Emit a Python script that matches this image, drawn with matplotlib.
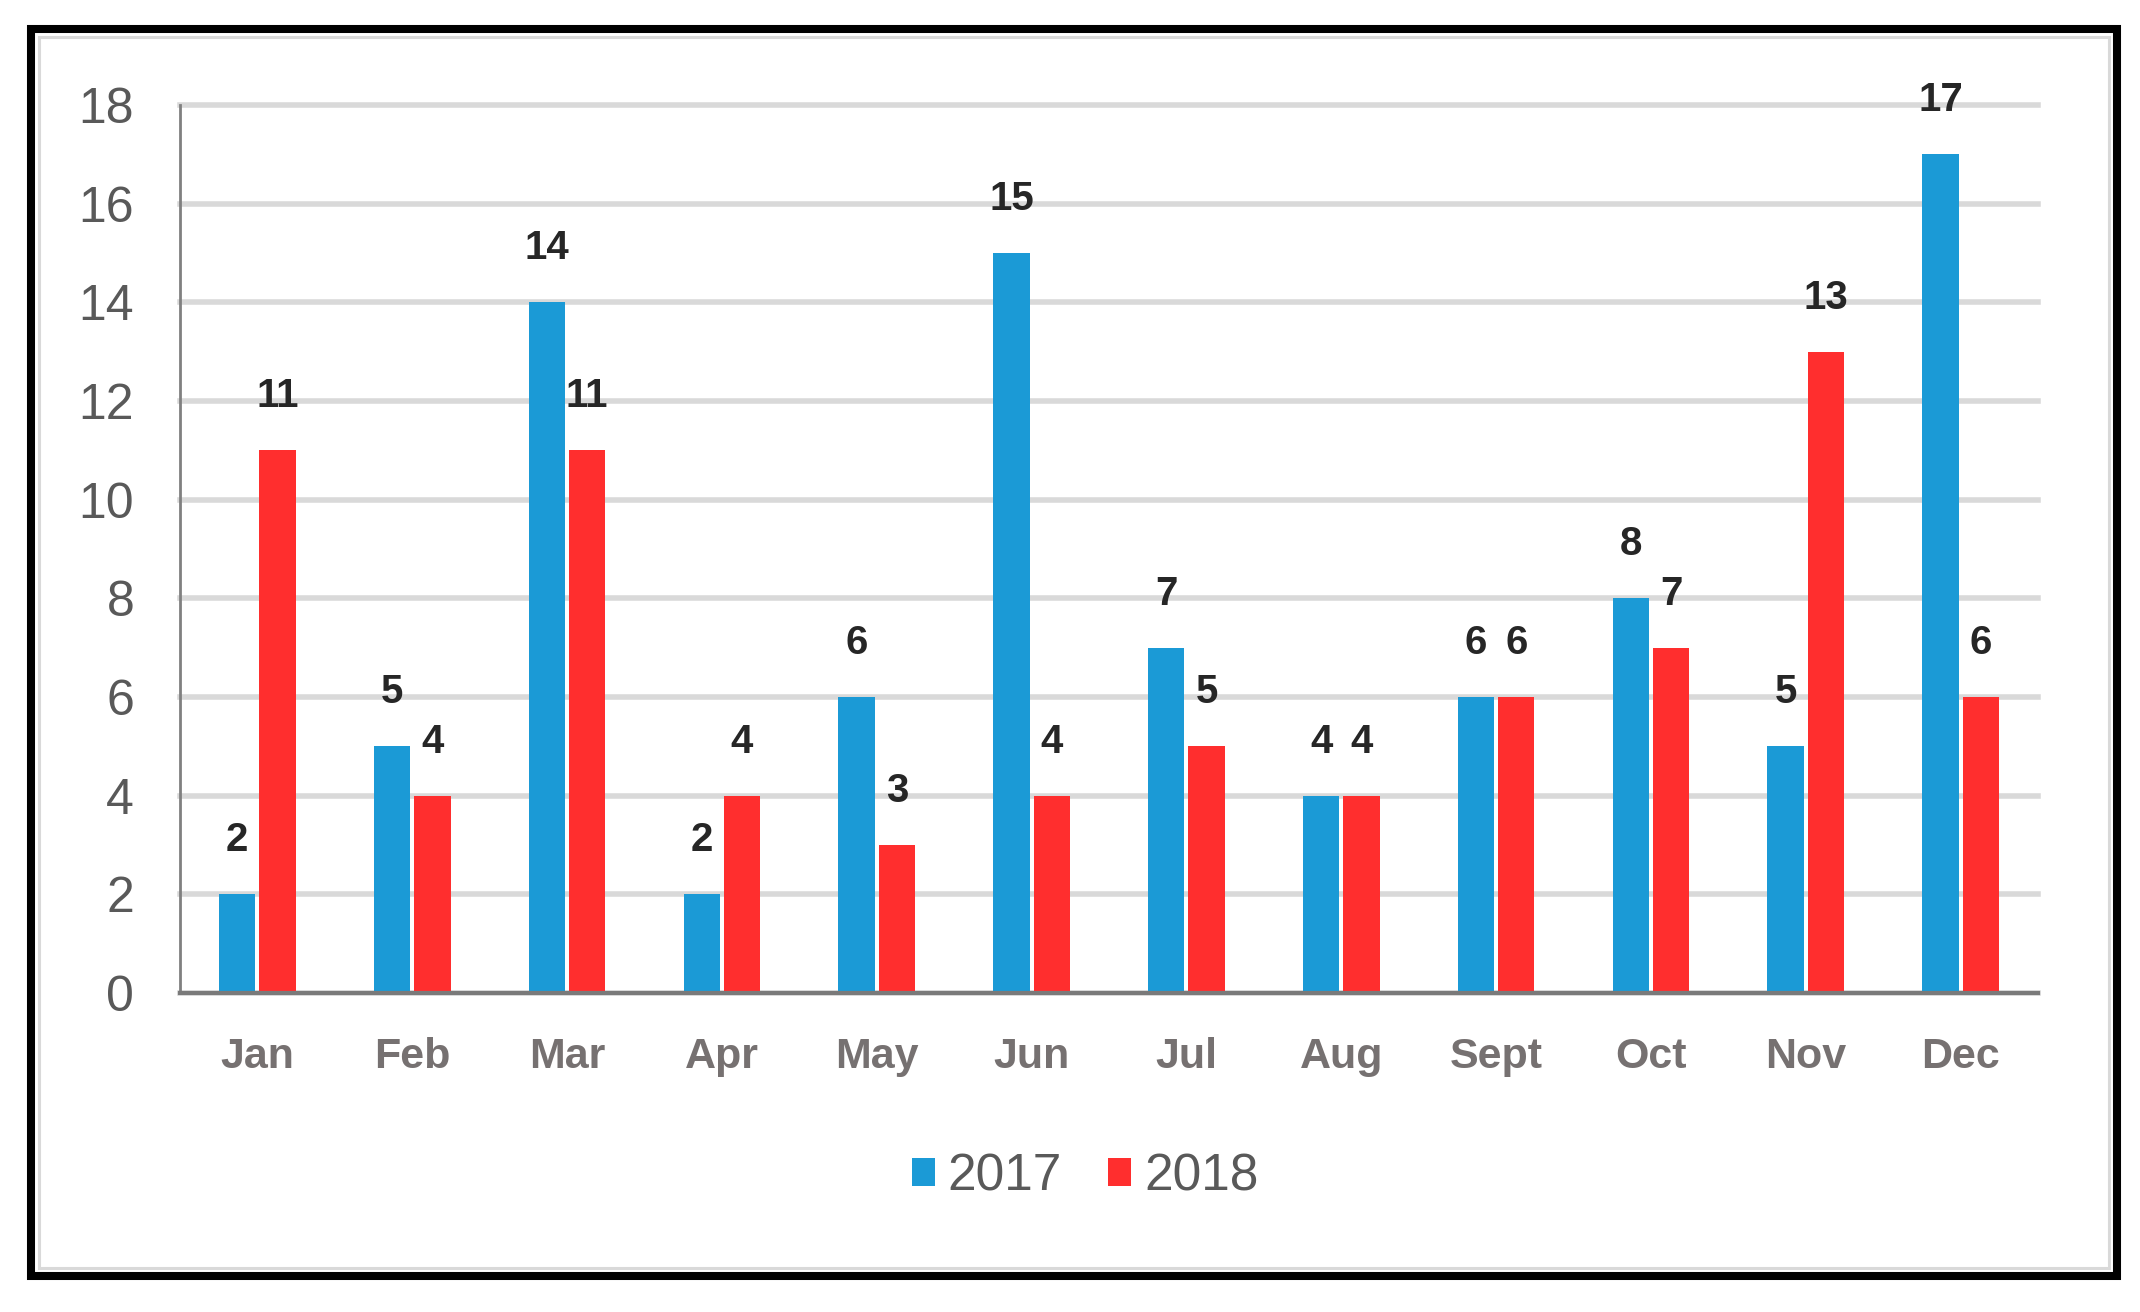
import matplotlib
matplotlib.use("Agg")
import matplotlib.pyplot as plt
from matplotlib.patches import Rectangle
import numpy as np

months = ["Jan", "Feb", "Mar", "Apr", "May", "Jun", "Jul", "Aug", "Sept", "Oct", "Nov", "Dec"]
values_2017 = [2, 5, 14, 2, 6, 15, 7, 4, 6, 8, 5, 17]
values_2018 = [11, 4, 11, 4, 3, 4, 5, 4, 6, 7, 13, 6]
series_names = ["2017", "2018"]
yticks = [0, 2, 4, 6, 8, 10, 12, 14, 16, 18]

BLUE = "#1B9AD6"
RED = "#FF2E2E"

plt.rcParams['font.family'] = ['Liberation Sans', 'DejaVu Sans']

W, H = 2140, 1312
fig = plt.figure(figsize=(W / 100, H / 100), dpi=100)
fig.patch.set_facecolor("white")

ax = fig.add_axes([180 / W, 1 - 993 / H, (2038 - 180) / W, (993 - 105) / H])

x = np.arange(len(months))
bw = 0.235
off = 0.13
b1 = ax.bar(x - off, values_2017, bw, color=BLUE, label=series_names[0], zorder=3)
b2 = ax.bar(x + off, values_2018, bw, color=RED, label=series_names[1], zorder=3)

for bars, vals in ((b1, values_2017), (b2, values_2018)):
    for rect, v in zip(bars, vals):
        ax.annotate(str(v), (rect.get_x() + rect.get_width() / 2, v),
                    xytext=(0, 39), textcoords="offset points",
                    ha="center", va="center", fontsize=29, fontweight="bold",
                    color="#262626", annotation_clip=False)

ax.set_xlim(-0.5, len(months) - 0.5)
ax.set_ylim(0, 18)
ax.set_yticks(yticks)
ax.set_yticklabels([str(t) for t in yticks])
ax.set_xticks(x)
ax.set_xticklabels(months)

ax.tick_params(axis="y", length=0, pad=33, labelsize=36, labelcolor="#595959")
ax.tick_params(axis="x", length=0, pad=32, labelsize=31, labelcolor="#767171")
for lab in ax.get_xticklabels():
    lab.set_fontweight("bold")

ax.yaxis.grid(True, color="#D9D9D9", linewidth=4, zorder=0)
ax.set_axisbelow(True)
for gl in ax.get_ygridlines():
    gl.set_clip_on(False)

for s in ("top", "right"):
    ax.spines[s].set_visible(False)
ax.spines["left"].set_color("#808080")
ax.spines["left"].set_linewidth(2)
ax.spines["bottom"].set_color("#7A7A7A")
ax.spines["bottom"].set_linewidth(3)
ax.spines["bottom"].set_zorder(4)

leg = fig.legend(handles=[b1, b2], labels=series_names, loc="center",
                 bbox_to_anchor=(1085 / W, 1 - 1177 / H), ncol=2, frameon=False,
                 fontsize=37, handlelength=0.45, handleheight=0.45,
                 handletextpad=0.25, columnspacing=0.9)
for t in leg.get_texts():
    t.set_color("#595959")

# outer frame
fig.patches.append(Rectangle((31 / W, 1 - 1276 / H), (2117 - 31) / W, (1276 - 29) / H,
                             transform=fig.transFigure, fill=False,
                             edgecolor="black", linewidth=5.8, zorder=10))
fig.patches.append(Rectangle((39 / W, 1 - 1268 / H), (2109 - 39) / W, (1268 - 37) / H,
                             transform=fig.transFigure, fill=False,
                             edgecolor="#D9D9D9", linewidth=2.2, zorder=10))

fig.savefig("out.png", dpi=100, facecolor="white")
